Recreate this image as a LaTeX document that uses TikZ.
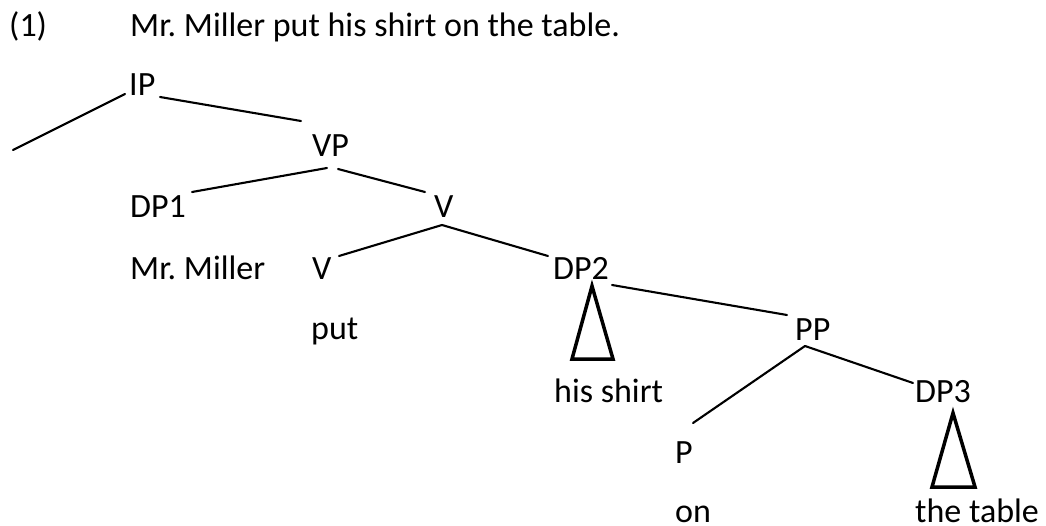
\documentclass[tikz,border=0pt]{standalone}
\usepackage{fontspec}
\setmainfont{Carlito}
\frenchspacing
\begin{document}
\begin{tikzpicture}[x=1pt,y=-1pt,
  lbl/.style={anchor=base west,inner sep=0pt,font=\fontsize{34}{38}\selectfont},
  branch/.style={line width=2.1pt,line cap=round},
  roof/.style={line width=3.5pt,line join=miter}]
\useasboundingbox (0,0) rectangle (1046,526);

% example number and sentence
\node[lbl] (num) at (9,37) {(1)};
\node[lbl] (sent) at (130,37) {Mr. Miller put his shirt on the table.};

% tree labels
\node[lbl] (IP)  at (129,96)  {IP};
\node[lbl] (VP)  at (312,157) {VP};
\node[lbl] (DP1) at (130,218) {DP1};
\node[lbl] (Vb)  at (434,218) {V};
\node[lbl] (mm)  at (130,280) {Mr. Miller};
\node[lbl] (V)   at (312,280) {V};
\node[lbl] (DP2) at (553,280) {DP2};
\node[lbl] (put) at (311,340) {put};
\node[lbl] (PP)  at (795,341) {PP};
\node[lbl] (hs)  at (554,402) {his shirt};
\node[lbl] (DP3) at (915,402) {DP3};
\node[lbl] (P)   at (675,463) {P};
\node[lbl] (on)  at (675,522) {on};
\node[lbl] (tt)  at (915,522) {the table};

% loose end of the subject branch
\coordinate (spec) at (13,150);

% branches (shifts in picture units, y pointing down)
\draw[branch] ([shift={(-4,-2)}]IP.base west) -- (spec);
\draw[branch] ([shift={(31,1)}]IP.base west) -- ([shift={(-11,-36)}]VP.base west);
\draw[branch] ([shift={(15,11)}]VP.base west) -- ([shift={(62,-26)}]DP1.base west);
\draw[branch] ([shift={(26,12)}]VP.base west) -- ([shift={(-9,-26)}]Vb.base west);
\draw[branch] ([shift={(8,7)}]Vb.base west) -- ([shift={(27,-24)}]V.base west);
\draw[branch] ([shift={(8,7)}]Vb.base west) -- ([shift={(-5,-24)}]DP2.base west);
\draw[branch] ([shift={(59,5)}]DP2.base west) -- ([shift={(-8,-26)}]PP.base west);
\draw[branch] ([shift={(10,5)}]PP.base west) -- ([shift={(18,-40)}]P.base west);
\draw[branch] ([shift={(10,5)}]PP.base west) -- ([shift={(-2,-19)}]DP3.base west);

% roofs over unanalysed phrases
\draw[roof] ([shift={(39,6)}]DP2.base west) -- ([shift={(18,-43)}]hs.base west)
  -- ([shift={(59,-43)}]hs.base west) -- cycle;
\draw[roof] ([shift={(38,11)}]DP3.base west) -- ([shift={(17,-35)}]tt.base west)
  -- ([shift={(60,-35)}]tt.base west) -- cycle;
\end{tikzpicture}
\end{document}
